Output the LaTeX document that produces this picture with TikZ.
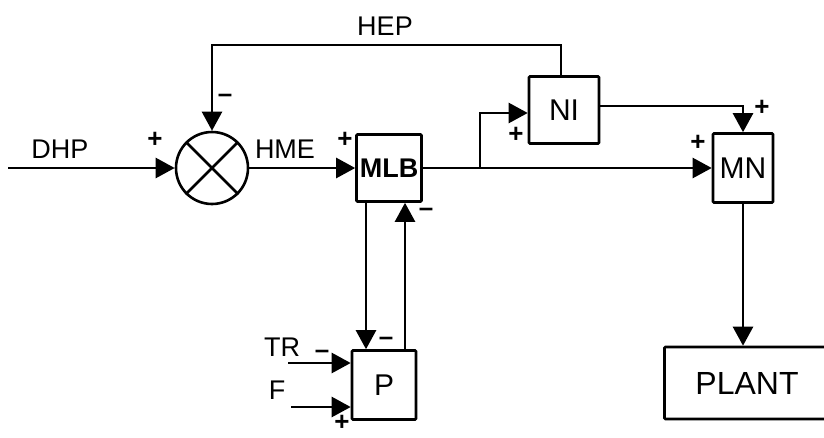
\documentclass[tikz,border=0pt]{standalone}
\usepackage{fontspec}
\setmainfont{Liberation Sans}
\usetikzlibrary{arrows.meta, positioning, calc}
\tikzset{
  blk/.style={
    draw,
    rectangle,
    rounded corners=1pt,
    line width=2.6pt,
    inner sep=0pt,
    font=\fontsize{30}{30}\selectfont
  },
  arrow/.style={
    -{Triangle[length=19pt,width=20pt]}, line width=2.5pt},
  line/.style={line width=2.5pt}
}

\begin{document}
\begin{tikzpicture}[x=1pt, y=-1pt,
  lbl/.style={font=\fontsize{27}{27}\selectfont, inner sep=0pt},
  sig/.style={font=\bfseries\fontsize{26}{26}\selectfont, inner sep=0pt}
]
\useasboundingbox (0,0) rectangle (824,437);
\clip (0,0) rectangle (824,437);

%% ---- summing junction ----
\coordinate (in) at (8,168);
\node[draw, circle, line width=2.6pt, minimum size=72pt, inner sep=0pt] (sum) at (212,168) {};
\draw[line] (sum.45) -- (sum.225);
\draw[line] (sum.135) -- (sum.315);

%% ---- blocks ----
\node[blk, minimum width=65pt, minimum height=67pt,
      font=\bfseries\fontsize{27}{27}\selectfont] (mlb) at (389,168) {MLB};
\node[blk, minimum width=70pt, minimum height=67pt] (ni) at (564,110) {NI};
\node[blk, minimum width=60pt, minimum height=69pt] (mn) at (743,168) {MN};
\node[blk, minimum width=64pt, minimum height=69pt] (p) at (384,385) {P};
\node[blk, minimum width=165pt, minimum height=72pt,
      font=\fontsize{32}{32}\selectfont] (plant) at (747,383) {PLANT};

%% ---- forward path ----
\coordinate (br) at (480,168);
\draw[arrow] (in) -- (sum.west);
\draw[arrow] (sum.east) -- (mlb.west);
\draw[arrow] (mlb.east) -- (mn.west);
\draw[arrow] (br) |- ([yshift=-3pt]ni.west);
\draw[arrow] ([yshift=4pt]ni.east) -| (mn.north);
\draw[arrow] (mn.south) -- (plant.north -| mn.south);

%% ---- feedback HEP ----
\coordinate (hepy) at (0,45);
\draw[arrow] ([xshift=-3pt]ni.north) |- (sum |- hepy) -- (sum.north);

%% ---- MLB / P loop ----
\coordinate (dn) at (366,0);
\coordinate (up) at (405,0);
\draw[arrow] (mlb.south -| dn) -- (p.north -| dn);
\draw[arrow] (p.north -| up) -- (mlb.south -| up);
\coordinate (tr) at (288,363);
\coordinate (f) at (291,407);
\draw[arrow] (tr) -- (tr -| p.west);
\draw[arrow] (f) -- (f -| p.west);

%% ---- labels ----
\node[lbl] (dhp) at (60,149) {DHP};
\node[lbl] (hme) at (285,149) {HME};
\node[lbl] (hep) at (385,26) {HEP};
\node[lbl] (trl) at (282,347) {TR};
\node[lbl] (fl)  at (277,390) {F};

%% ---- signs ----
\node[sig] (s1)  at (155,140) {+};
\node[sig] (s2)  at (225,98)  {--};
\node[sig] (s3)  at (345,140) {+};
\node[sig] (s4)  at (516,135) {+};
\node[sig] (s5)  at (762,108) {+};
\node[sig] (s6)  at (698,143) {+};
\node[sig] (s7)  at (426,212) {--};
\node[sig] (s8)  at (386,341) {--};
\node[sig] (s9)  at (322,354) {--};
\node[sig] (s10) at (342,423) {+};
\end{tikzpicture}
\end{document}
